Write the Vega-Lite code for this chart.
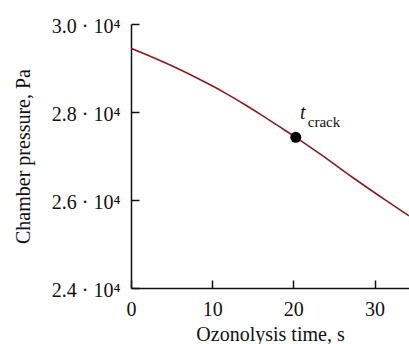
{
  "$schema": "https://vega.github.io/schema/vega-lite/v6.json",
  "autosize": {"type": "none"},
  "width": 278,
  "height": 264,
  "padding": {"left": 131, "top": 24, "right": 0, "bottom": 56},
  "config": {
    "view": {"stroke": null},
    "font": "Liberation Serif",
    "axis": {
      "domainColor": "#111111",
      "domainWidth": 1.5,
      "tickColor": "#111111",
      "tickWidth": 1.5,
      "tickSize": -8,
      "grid": false,
      "labelFont": "Liberation Serif",
      "labelFontSize": 20,
      "labelColor": "#111111",
      "titleFont": "Liberation Serif",
      "titleFontSize": 20,
      "titleFontWeight": "normal",
      "titleColor": "#111111"
    }
  },
  "datasets": {
    "curve": [
      {"t": 0, "p": 29448},
      {"t": 2, "p": 29295},
      {"t": 4, "p": 29135},
      {"t": 6, "p": 28965},
      {"t": 8, "p": 28785},
      {"t": 10, "p": 28595},
      {"t": 12, "p": 28390},
      {"t": 14, "p": 28170},
      {"t": 16, "p": 27940},
      {"t": 18, "p": 27700},
      {"t": 20.3, "p": 27425},
      {"t": 23.5, "p": 27020},
      {"t": 27.4, "p": 26500},
      {"t": 31.5, "p": 25980},
      {"t": 34.25, "p": 25640}
    ],
    "crack": [
      {"t": 20.3, "p": 27425}
    ]
  },
  "layer": [
    {
      "data": {"name": "curve"},
      "mark": {"type": "line", "color": "#8f1a1a", "strokeWidth": 1.6, "interpolate": "monotone", "clip": true},
      "encoding": {
        "x": {
          "field": "t", "type": "quantitative",
          "scale": {"domain": [0, 34.25], "nice": false, "zero": false},
          "axis": {
            "title": "Ozonolysis time, s",
            "values": [0, 10, 20, 30],
            "labelPadding": 19,
            "titlePadding": 5,
            "labelFlush": false
          }
        },
        "y": {
          "field": "p", "type": "quantitative",
          "scale": {"domain": [24000, 30000], "nice": false, "zero": false},
          "axis": {
            "title": "Chamber pressure, Pa",
            "values": [24000, 26000, 28000, 30000],
            "labelExpr": "format(datum.value / 10000, '.1f') + ' · 10⁴'",
            "labelPadding": 19,
            "labelOffset": 2,
            "titlePadding": 18,
            "labelFlush": false
          }
        }
      }
    },
    {
      "data": {"name": "crack"},
      "mark": {"type": "point", "filled": true, "color": "#000000", "opacity": 1, "size": 120},
      "encoding": {
        "x": {"field": "t", "type": "quantitative"},
        "y": {"field": "p", "type": "quantitative"}
      }
    },
    {
      "data": {"name": "crack"},
      "mark": {"type": "text", "text": "t", "fontStyle": "italic", "fontSize": 20, "font": "Liberation Serif", "color": "#111111", "align": "center", "baseline": "middle", "dx": 7, "dy": -24},
      "encoding": {
        "x": {"field": "t", "type": "quantitative"},
        "y": {"field": "p", "type": "quantitative"}
      }
    },
    {
      "data": {"name": "crack"},
      "mark": {"type": "text", "text": "crack", "fontSize": 15, "font": "Liberation Serif", "color": "#111111", "align": "left", "baseline": "middle", "dx": 12, "dy": -15},
      "encoding": {
        "x": {"field": "t", "type": "quantitative"},
        "y": {"field": "p", "type": "quantitative"}
      }
    }
  ]
}
